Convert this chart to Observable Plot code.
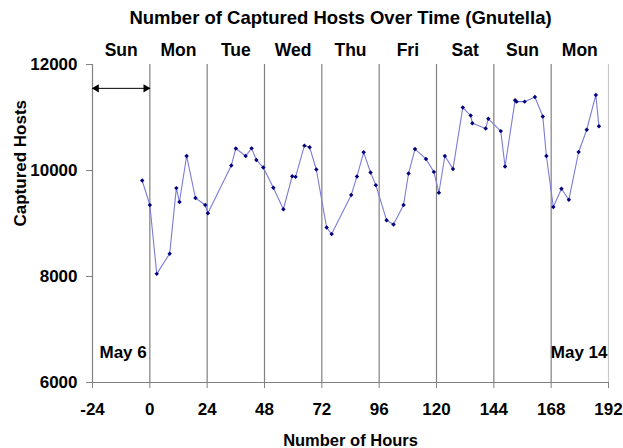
<!DOCTYPE html>
<html>
<head>
<meta charset="utf-8">
<script src="https://cdn.jsdelivr.net/npm/d3@7"></script>
<script src="https://cdn.jsdelivr.net/npm/@observablehq/plot@0.6"></script>
<style>
  html, body { margin: 0; padding: 0; background: #fff; }
</style>
</head>
<body>
<div id="chart"></div>
<script>
const hours = [-3.2, 0, 2.9, 8.3, 11.1, 12.4, 15.4, 19.1, 23.2, 24.3, 34.1, 36.0, 40.1, 42.6, 44.6, 47.5,
  51.7, 55.9, 59.6, 61.0, 64.7, 66.9, 69.7, 74.0, 76.1, 84.3, 86.7, 89.5, 92.4, 94.6, 99.1, 102.0,
  106.2, 108.3, 111.0, 115.6, 118.9, 121.0, 123.5, 126.9, 131.0, 134.3, 135.0, 140.6, 141.7, 146.9,
  148.7, 152.9, 153.5, 156.9, 161.2, 164.5, 166.0, 168.9, 172.3, 175.4, 179.5, 182.9, 186.7, 188.0];
const hosts = [9812, 9349, 8050, 8431, 9668, 9406, 10274, 9481, 9349, 9194, 10094, 10416, 10274, 10418, 10199, 10056,
  9674, 9269, 9893, 9880, 10469, 10437, 10019, 8924, 8800, 9537, 9888, 10343, 9962, 9724, 9063, 8980,
  9349, 9944, 10405, 10218, 9974, 9580, 10274, 10030, 11187, 11037, 10893, 10793, 10975, 10743,
  10075, 11324, 11299, 11299, 11387, 11018, 10274, 9312, 9655, 9449, 10349, 10769, 11425, 10836];
const days = ["Sun", "Mon", "Tue", "Wed", "Thu", "Fri", "Sat", "Sun", "Mon"];
const dayCenters = [-12, 12, 36, 60, 84, 108, 132, 156, 180];
const xTicks = [-24, 0, 24, 48, 72, 96, 120, 144, 168, 192];
const yTicks = [6000, 8000, 10000, 12000];
const dayLines = [0, 24, 48, 72, 96, 120, 144, 168];
const arrowSpan = [-24, 0];
const arrowLevel = 11550;
const startLabel = ["May 6"], startHour = -24;
const endLabel = ["May 14"], endHour = 192;
const dateLevel = 6560;

const data = hours.map((h, i) => ({h, v: hosts[i]}));
const font = "'Liberation Sans', Arial, sans-serif";
const fs = 17;

const chart = Plot.plot({
  width: 623,
  height: 448,
  marginLeft: 92,
  marginRight: 15,
  marginTop: 64,
  marginBottom: 66,
  style: {fontFamily: font, fontWeight: "bold", fontSize: fs + "px", color: "#000", background: "#fff"},
  x: {domain: [-24, 192]},
  y: {domain: [6000, 12000]},
  marks: [
    Plot.ruleX(dayLines, {stroke: "#808080", strokeWidth: 1.2}),
    Plot.ruleX([192], {stroke: "#c8c8c8", strokeWidth: 1.2}),
    Plot.ruleX([-24], {stroke: "#808080", strokeWidth: 1.2}),
    Plot.ruleY([6000], {stroke: "#808080", strokeWidth: 1.2}),
    Plot.axisX({ticks: xTicks, tickSize: 6, tickPadding: 14, label: null, tickFormat: d => String(d), stroke: "#808080", fontSize: fs, fontWeight: "bold", fill: "#000"}),
    Plot.axisY({ticks: yTicks, tickSize: 6, tickPadding: 9, label: null, tickFormat: d => String(d), stroke: "#808080", fontSize: fs, fontWeight: "bold", fill: "#000"}),
    Plot.link([arrowSpan], {x1: d => d[0], x2: d => d[1], y1: arrowLevel, y2: arrowLevel, stroke: "#000", strokeWidth: 1, insetLeft: 3, insetRight: 3}),
    Plot.dot([arrowSpan[0]], {x: d => d, y: arrowLevel, symbol: "triangle", r: 3, fill: "#000", stroke: null, rotate: -90, dx: 4}),
    Plot.dot([arrowSpan[1]], {x: d => d, y: arrowLevel, symbol: "triangle", r: 3, fill: "#000", stroke: null, rotate: 90, dx: -4}),
    Plot.line(data, {x: "h", y: "v", stroke: "#7b7bd8", strokeWidth: 1.1}),
    Plot.dot(data, {x: "h", y: "v", r: 2, fill: "#00007a", stroke: null, symbol: "diamond2"}),
    Plot.text(days, {x: (d, i) => dayCenters[i], text: d => d, frameAnchor: "top", lineAnchor: "middle", dy: -14, fontSize: 17.5, fontWeight: "bold"}),
    Plot.text(startLabel, {x: startHour, y: dateLevel, text: d => d, textAnchor: "start", lineAnchor: "middle", dx: 7, fontSize: 17, fontWeight: "bold"}),
    Plot.text(endLabel, {x: endHour, y: dateLevel, text: d => d, textAnchor: "end", lineAnchor: "middle", dx: -1, fontSize: 17, fontWeight: "bold"}),
    Plot.text(["Number of Captured Hosts Over Time (Gnutella)"], {frameAnchor: "top", lineAnchor: "middle", dy: -46, dx: -10, fontSize: 18.5, fontWeight: "bold"}),
    Plot.text(["Number of Hours"], {frameAnchor: "bottom", lineAnchor: "middle", dy: 58, fontSize: 16.5, fontWeight: "bold"}),
    Plot.text(["Captured Hosts"], {frameAnchor: "left", lineAnchor: "middle", dx: -72, dy: 3, rotate: -90, fontSize: 17, fontWeight: "bold"})
  ]
});
document.getElementById("chart").appendChild(chart);
</script>
</body>
</html>
